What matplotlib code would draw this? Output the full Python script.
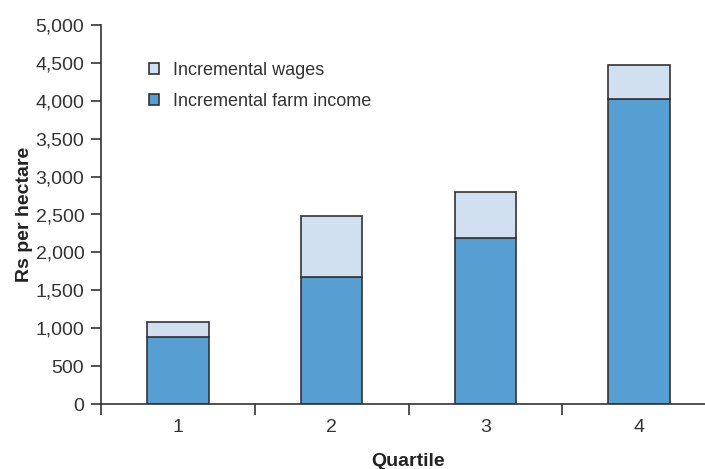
import matplotlib
matplotlib.use("Agg")
import matplotlib.pyplot as plt
from matplotlib.patches import Patch
from matplotlib.ticker import FuncFormatter, FixedLocator

quartiles = ["1", "2", "3", "4"]
farm_income = [880, 1675, 2190, 4030]
wages = [200, 805, 610, 440]
yticks = [0, 500, 1000, 1500, 2000, 2500, 3000, 3500, 4000, 4500, 5000]

plt.rcParams['font.family'] = ['Liberation Sans Narrow', 'Liberation Sans', 'DejaVu Sans']

dark = "#579fd3"
light = "#d1e0f1"
edge = "#333333"

fig = plt.figure(figsize=(7.05, 4.69), dpi=100)
ax = fig.add_axes([101/705, 65/469, 615/705, 379/469])

x = list(range(len(quartiles)))
ax.bar(x, farm_income, width=0.4, color=dark, edgecolor=edge, linewidth=1.2, zorder=2)
ax.bar(x, wages, width=0.4, bottom=farm_income, color=light, edgecolor=edge, linewidth=1.2, zorder=2)

ax.set_xlim(-0.5, 3.5)
ax.set_ylim(0, 5000)
ax.set_yticks(yticks)
ax.yaxis.set_major_formatter(FuncFormatter(lambda v, p: f"{int(v):,}"))
ax.set_xticks(x)
ax.set_xticklabels(quartiles)
ax.tick_params(axis='x', which='major', length=0, pad=11, labelsize=14, colors='#333333')
ax.xaxis.set_minor_locator(FixedLocator([-0.5, 0.5, 1.5, 2.5, 3.5]))
ax.tick_params(axis='x', which='minor', length=8, width=1.2, direction='out', color=edge)
ax.tick_params(axis='y', length=7, width=1.2, color=edge, labelsize=14, labelcolor='#333333', pad=5)

for s in ['top', 'right']:
    ax.spines[s].set_visible(False)
for s in ['left', 'bottom']:
    ax.spines[s].set_color(edge)
    ax.spines[s].set_linewidth(1.2)

ax.set_ylabel("Rs per hectare", fontsize=14, fontweight='bold', color='#222222', labelpad=2)
fig.text(408/705, 1 - 461/469, "Quartile", fontsize=14, fontweight='bold', color='#222222',
         ha='center', va='center')

handles = [Patch(facecolor=light, edgecolor=edge, linewidth=1.2, label="Incremental wages"),
           Patch(facecolor=dark, edgecolor=edge, linewidth=1.2, label="Incremental farm income")]
leg = ax.legend(handles=handles, loc='upper left', bbox_to_anchor=(0.052, 0.945), frameon=False,
                fontsize=13, handlelength=0.55, handleheight=0.55, handletextpad=0.75,
                labelspacing=0.75, labelcolor='#333333')

fig.savefig("out.png", dpi=100)
